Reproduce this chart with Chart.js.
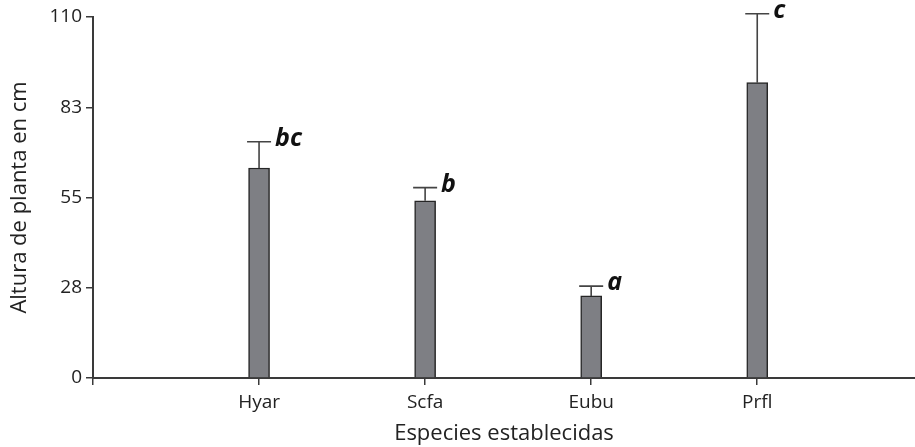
<!DOCTYPE html>
<html>
<head>
<meta charset="utf-8">
<script src="https://cdn.jsdelivr.net/npm/chart.js@4/dist/chart.umd.min.js"></script>
<style>
  html, body { margin: 0; padding: 0; background: #fff; }
  #wrap { width: 915px; height: 447px; }
</style>
</head>
<body>
<div id="wrap"><canvas id="c" width="915" height="447"></canvas></div>
<script>
// Plant height per established species (mean, upper error limit, significance group)
const species = ['Hyar', 'Scfa', 'Eubu', 'Prfl'];
const meanHeight = [64, 54, 25, 90];
const upperLimit = [72, 58, 28, 111];
const groupLetters = ['bc', 'b', 'a', 'c'];
const yTicks = [0, 27.5, 55, 82.5, 110];

const FONT = '"Open Sans", "Noto Sans", sans-serif';
const AXIS_COLOR = '#3a3a3a';
const TEXT_COLOR = '#222';

const points = species.map((s, i) => ({ x: i + 1, y: meanHeight[i] }));

// Whiskers and group letters, placed through the chart scales
const errorBars = {
  id: 'errorBars',
  afterDatasetsDraw(chart) {
    const { ctx, scales: { x, y } } = chart;
    ctx.save();
    ctx.strokeStyle = '#444';
    ctx.lineWidth = 1.6;
    species.forEach((s, i) => {
      const px = x.getPixelForValue(i + 1);
      const yTop = y.getPixelForValue(meanHeight[i]);
      const yErr = y.getPixelForValue(upperLimit[i]);
      ctx.beginPath();
      ctx.moveTo(px, yTop);
      ctx.lineTo(px, yErr);
      ctx.moveTo(px - 12, yErr);
      ctx.lineTo(px + 12, yErr);
      ctx.stroke();
      ctx.fillStyle = '#111';
      ctx.font = 'italic bold 25px ' + FONT;
      ctx.textAlign = 'left';
      ctx.textBaseline = 'middle';
      ctx.fillText(groupLetters[i], px + 16, yErr - 3);
    });
    ctx.restore();
  }
};

new Chart(document.getElementById('c'), {
  type: 'bar',
  data: {
    datasets: [{
      data: points,
      backgroundColor: '#7e7f84',
      borderColor: '#262626',
      borderWidth: 1.5,
      borderSkipped: 'bottom',
      barThickness: 21
    }]
  },
  options: {
    responsive: false,
    animation: false,
    devicePixelRatio: 1,
    layout: { padding: { top: 17, right: 0, left: 0, bottom: 0 } },
    plugins: {
      legend: { display: false },
      tooltip: { enabled: false }
    },
    scales: {
      x: {
        type: 'linear',
        min: 0,
        max: 4.95,
        offset: false,
        afterBuildTicks(scale) {
          scale.ticks = [0, 1, 2, 3, 4].map(v => ({ value: v }));
        },
        afterFit(scale) { scale.height = 69; },
        grid: { offset: false, drawOnChartArea: false, drawTicks: true, tickLength: 7, color: AXIS_COLOR, lineWidth: 1.5 },
        border: { display: true, color: AXIS_COLOR, width: 2 },
        ticks: {
          autoSkip: false,
          maxRotation: 0,
          padding: 6,
          color: TEXT_COLOR,
          font: { family: FONT, size: 19 },
          callback: v => (v >= 1 && v <= species.length) ? species[v - 1] : ''
        },
        title: {
          display: true,
          text: 'Especies establecidas',
          color: TEXT_COLOR,
          font: { family: FONT, size: 22 },
          padding: { top: 0, bottom: 0 }
        }
      },
      y: {
        min: 0,
        max: 110,
        afterBuildTicks(scale) {
          scale.ticks = yTicks.map(v => ({ value: v }));
        },
        afterFit(scale) { scale.width = 93; },
        grid: { drawOnChartArea: false, drawTicks: true, tickLength: 7, color: AXIS_COLOR, lineWidth: 1.5 },
        border: { display: true, color: AXIS_COLOR, width: 2 },
        ticks: {
          padding: 4,
          color: TEXT_COLOR,
          font: { family: FONT, size: 19 },
          callback: v => String(Math.round(v))
        },
        title: {
          display: true,
          text: 'Altura de planta en cm',
          color: TEXT_COLOR,
          font: { family: FONT, size: 22 },
          padding: { top: 7, bottom: 0 }
        }
      }
    }
  },
  plugins: [errorBars]
});
</script>
</body>
</html>
